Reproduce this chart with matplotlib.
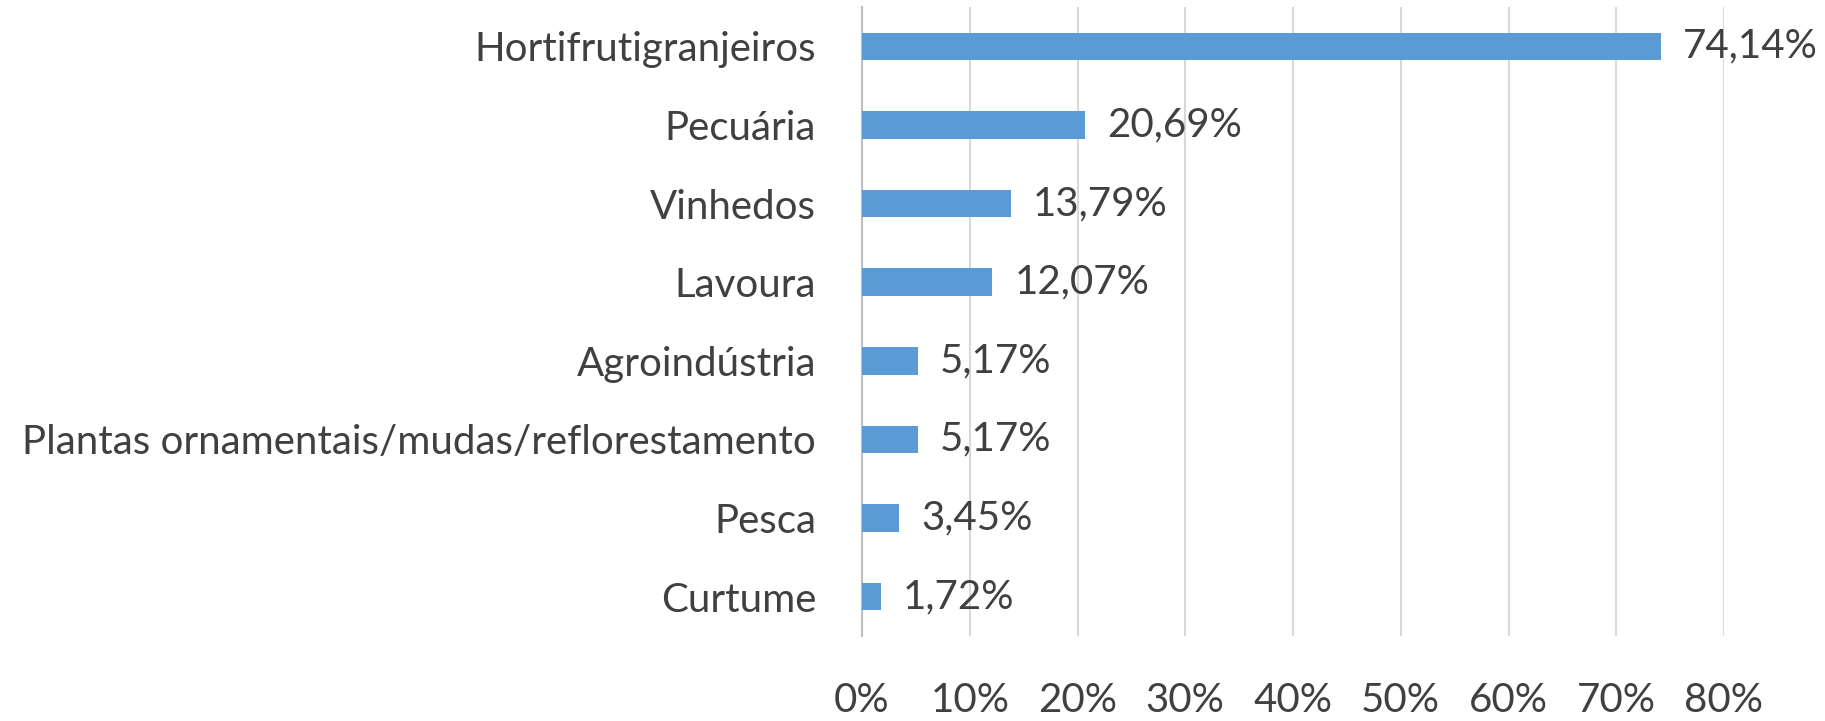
import matplotlib.pyplot as plt
from matplotlib.ticker import FuncFormatter

categories = [
    "Hortifrutigranjeiros",
    "Pecuária",
    "Vinhedos",
    "Lavoura",
    "Agroindústria",
    "Plantas ornamentais/mudas/reflorestamento",
    "Pesca",
    "Curtume",
]
values = [74.14, 20.69, 13.79, 12.07, 5.17, 5.17, 3.45, 1.72]
xticks = [0, 10, 20, 30, 40, 50, 60, 70, 80]

bar_color = "#5b9bd5"
text_color = "#404040"
grid_color = "#d9d9d9"

plt.rcParams["font.family"] = ["Lato", "DejaVu Sans"]

fig = plt.figure(figsize=(18.25, 7.21), dpi=100)
ax = fig.add_axes([862 / 1825, 1 - 636 / 721, (1724 - 862) / 1825, (636 - 7) / 721])

ypos = list(range(len(categories)))
ax.barh(ypos, values, height=0.35, color=bar_color, zorder=3)

for y, v in zip(ypos, values):
    ax.annotate(f"{v:.2f}%".replace(".", ","), xy=(v, y), xytext=(16, 0),
                textcoords="offset points", va="center", ha="left",
                fontsize=29, color=text_color)

ax.set_xlim(0, 80)
ax.set_ylim(len(categories) - 0.5, -0.5)
ax.set_xticks(xticks)
ax.xaxis.set_major_formatter(FuncFormatter(lambda x, p: f"{x:.0f}%"))
ax.set_yticks(ypos)
ax.set_yticklabels(categories)

ax.tick_params(axis="x", length=0, pad=33, labelsize=29, labelcolor=text_color)
ax.tick_params(axis="y", length=0, pad=33, labelsize=29, labelcolor=text_color)

ax.grid(axis="x", color=grid_color, linewidth=1.5, zorder=0)
for s in ["top", "right", "bottom"]:
    ax.spines[s].set_visible(False)
ax.spines["left"].set_color("#bfbfbf")
ax.spines["left"].set_linewidth(1.5)

fig.savefig("out.png", dpi=100)
